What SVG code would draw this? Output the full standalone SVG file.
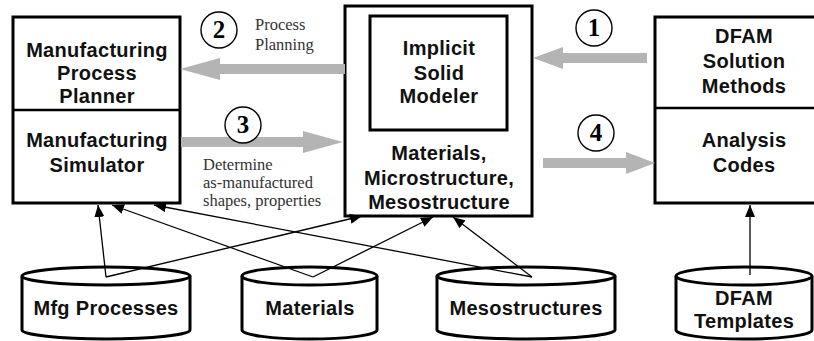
<svg xmlns="http://www.w3.org/2000/svg" width="814" height="341" viewBox="0 0 814 341">
<defs>
<style>
.box{fill:#fff;stroke:#000;stroke-width:3}
.div{stroke:#000;stroke-width:2.5;fill:none}
.t{font-family:Arial,"Liberation Sans",sans-serif;font-weight:bold;font-size:20px;letter-spacing:0.3px;text-anchor:middle;fill:#111}
.s{font-family:"Times New Roman","Liberation Serif",serif;font-size:16.5px;fill:#333}
.num{font-family:"Times New Roman","Liberation Serif",serif;font-weight:bold;font-size:25px;text-anchor:middle;fill:#000}
.circ{fill:#fff;stroke:#000;stroke-width:1.4}
.big{fill:#b4b4b4;stroke:none}
.cyl{fill:#fff;stroke:#000;stroke-width:3}
.ln{stroke:#000;stroke-width:1.3;fill:none;marker-end:url(#ah)}
</style>
<marker id="ah" viewBox="0 0 12 10" refX="12" refY="5" markerWidth="12" markerHeight="10" markerUnits="userSpaceOnUse" orient="auto">
<path d="M0,0 L12,5 L0,10 Z" fill="#000"/>
</marker>
</defs>

<g id="mfg-box">
<rect class="box" x="13" y="17" width="167" height="186"/>
<line class="div" x1="13" y1="110" x2="180" y2="110"/>
<text class="t" x="97" y="57">Manufacturing</text>
<text class="t" x="97" y="80">Process</text>
<text class="t" x="97" y="103">Planner</text>
<text class="t" x="97" y="147">Manufacturing</text>
<text class="t" x="97" y="172">Simulator</text>
</g>

<g id="solid-box">
<rect class="box" x="345" y="6" width="187" height="210"/>
<rect class="box" x="370" y="16" width="137" height="114"/>
<text class="t" x="439" y="55">Implicit</text>
<text class="t" x="439" y="80">Solid</text>
<text class="t" x="439" y="103">Modeler</text>
<text class="t" x="439" y="160">Materials,</text>
<text class="t" x="439" y="185">Microstructure,</text>
<text class="t" x="439" y="209">Mesostructure</text>
</g>

<g id="dfam-box">
<rect class="box" x="655" y="17" width="180" height="186"/>
<line class="div" x1="655" y1="108" x2="835" y2="108"/>
<text class="t" x="744" y="43">DFAM</text>
<text class="t" x="744" y="68">Solution</text>
<text class="t" x="744" y="93">Methods</text>
<text class="t" x="744" y="147">Analysis</text>
<text class="t" x="744" y="172">Codes</text>
</g>

<g id="db-mfg">
<path class="cyl" d="M22,276 L22,330 A84,9 0 0 0 190,330 L190,276"/>
<ellipse class="cyl" cx="106" cy="276" rx="84" ry="9"/>
<text class="t" x="106" y="315">Mfg Processes</text>
</g>
<g id="db-materials">
<path class="cyl" d="M242,276 L242,330 A67.5,9 0 0 0 377,330 L377,276"/>
<ellipse class="cyl" cx="309.5" cy="276" rx="67.5" ry="9"/>
<text class="t" x="310" y="315">Materials</text>
</g>
<g id="db-meso">
<path class="cyl" d="M437,276 L437,330 A89,9 0 0 0 615,330 L615,276"/>
<ellipse class="cyl" cx="526" cy="276" rx="89" ry="9"/>
<text class="t" x="526" y="315">Mesostructures</text>
</g>
<g id="db-templates">
<path class="cyl" d="M676,276 L676,330 A68,9 0 0 0 812,330 L812,276"/>
<ellipse class="cyl" cx="744" cy="276" rx="68" ry="9"/>
<text class="t" x="744" y="305">DFAM</text>
<text class="t" x="744" y="328">Templates</text>
</g>

<g id="connectors">
<polygon class="big" points="180,69 220,58 220,64 345,64 345,74 220,74 220,80"/>
<polygon class="big" points="181,137 303,137 303,131 343,142 303,153 303,147 181,147"/>
<polygon class="big" points="533,58 563,47 563,53 647,53 647,63 563,63 563,69"/>
<polygon class="big" points="543,158 626,158 626,152 655,163 626,174 626,168 543,168"/>
<line class="ln" x1="106" y1="277" x2="98" y2="205"/>
<line class="ln" x1="106" y1="277" x2="362" y2="216"/>
<line class="ln" x1="313" y1="277" x2="112" y2="205"/>
<line class="ln" x1="313" y1="277" x2="433" y2="217"/>
<line class="ln" x1="532" y1="277" x2="453" y2="217"/>
<line class="ln" x1="532" y1="277" x2="154" y2="205"/>
<line class="ln" x1="750" y1="275" x2="750" y2="205"/>
</g>

<g id="step-labels">
<circle class="circ" cx="219" cy="30" r="18"/>
<text class="num" x="219" y="38">2</text>
<circle class="circ" cx="243" cy="125" r="18"/>
<text class="num" x="243" y="133">3</text>
<circle class="circ" cx="594" cy="28" r="18"/>
<text class="num" x="594" y="36">1</text>
<circle class="circ" cx="596" cy="133" r="18"/>
<text class="num" x="596" y="141">4</text>
<text class="s" x="255" y="30">Process</text>
<text class="s" x="255" y="50">Planning</text>
<text class="s" x="203" y="170">Determine</text>
<text class="s" x="203" y="188">as-manufactured</text>
<text class="s" x="203" y="206">shapes, properties</text>
</g>
</svg>
